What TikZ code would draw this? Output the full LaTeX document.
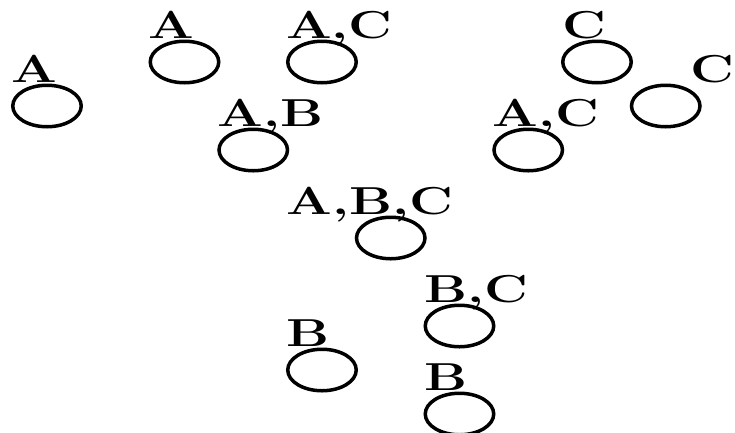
\documentclass[tikz,border=0pt]{standalone}
\usetikzlibrary{shapes.geometric,calc}
\tikzset{
  st/.style={draw=black, line width=3.5pt, ellipse, minimum width=68.5pt, minimum height=41.5pt, inner sep=0pt},
  lab/.style={anchor=base west, inner sep=0pt, font=\fontsize{39}{44}\selectfont\bfseries}
}
\newcommand{\lbl}[1]{\scalebox{1.38}[1]{#1}}
\begin{document}
\begin{tikzpicture}[x=1pt,y=-1pt]
\useasboundingbox (0,0) rectangle (735,432);
\node[st] (e1) at (47,106) {};
\node[st] (e2) at (184.5,62) {};
\node[st] (e3) at (322,62) {};
\node[st] (e4) at (597,62) {};
\node[st] (e5) at (665.75,106) {};
\node[st] (e6) at (253.25,150) {};
\node[st] (e7) at (528.25,150) {};
\node[st] (e8) at (390.75,238) {};
\node[st] (e9) at (459.5,326) {};
\node[st] (e10) at (322,370) {};
\node[st] (e11) at (459.5,414) {};
\node[lab] (l1) at ($(e1.west |- e1.north)+(0,-1)$) {\lbl{A}};
\node[lab] (l2) at ($(e2.west |- e2.north)+(0,-1)$) {\lbl{A}};
\node[lab] (l3) at ($(e3.west |- e3.north)+(0,-1)$) {\lbl{A,C}};
\node[lab] (l4) at ($(e4.west |- e4.north)+(1,-1)$) {\lbl{C}};
\node[lab, anchor=base east] (l5) at ($(734.5,0 |- e5.north)+(0,-1)$) {\lbl{C}};
\node[lab] (l6) at ($(e6.west |- e6.north)+(0,-1)$) {\lbl{A,B}};
\node[lab] (l7) at ($(e7.west |- e7.north)+(0,-1)$) {\lbl{A,C}};
\node[lab] (l8) at ($(e8.west |- e8.north)+(-68,-1)$) {\lbl{A,B,C}};
\node[lab] (l9) at ($(e9.west |- e9.north)+(1,-1)$) {\lbl{B,C}};
\node[lab] (l10) at ($(e10.west |- e10.north)+(0,-1)$) {\lbl{B}};
\node[lab] (l11) at ($(e11.west |- e11.north)+(1,-1)$) {\lbl{B}};
\end{tikzpicture}
\end{document}
